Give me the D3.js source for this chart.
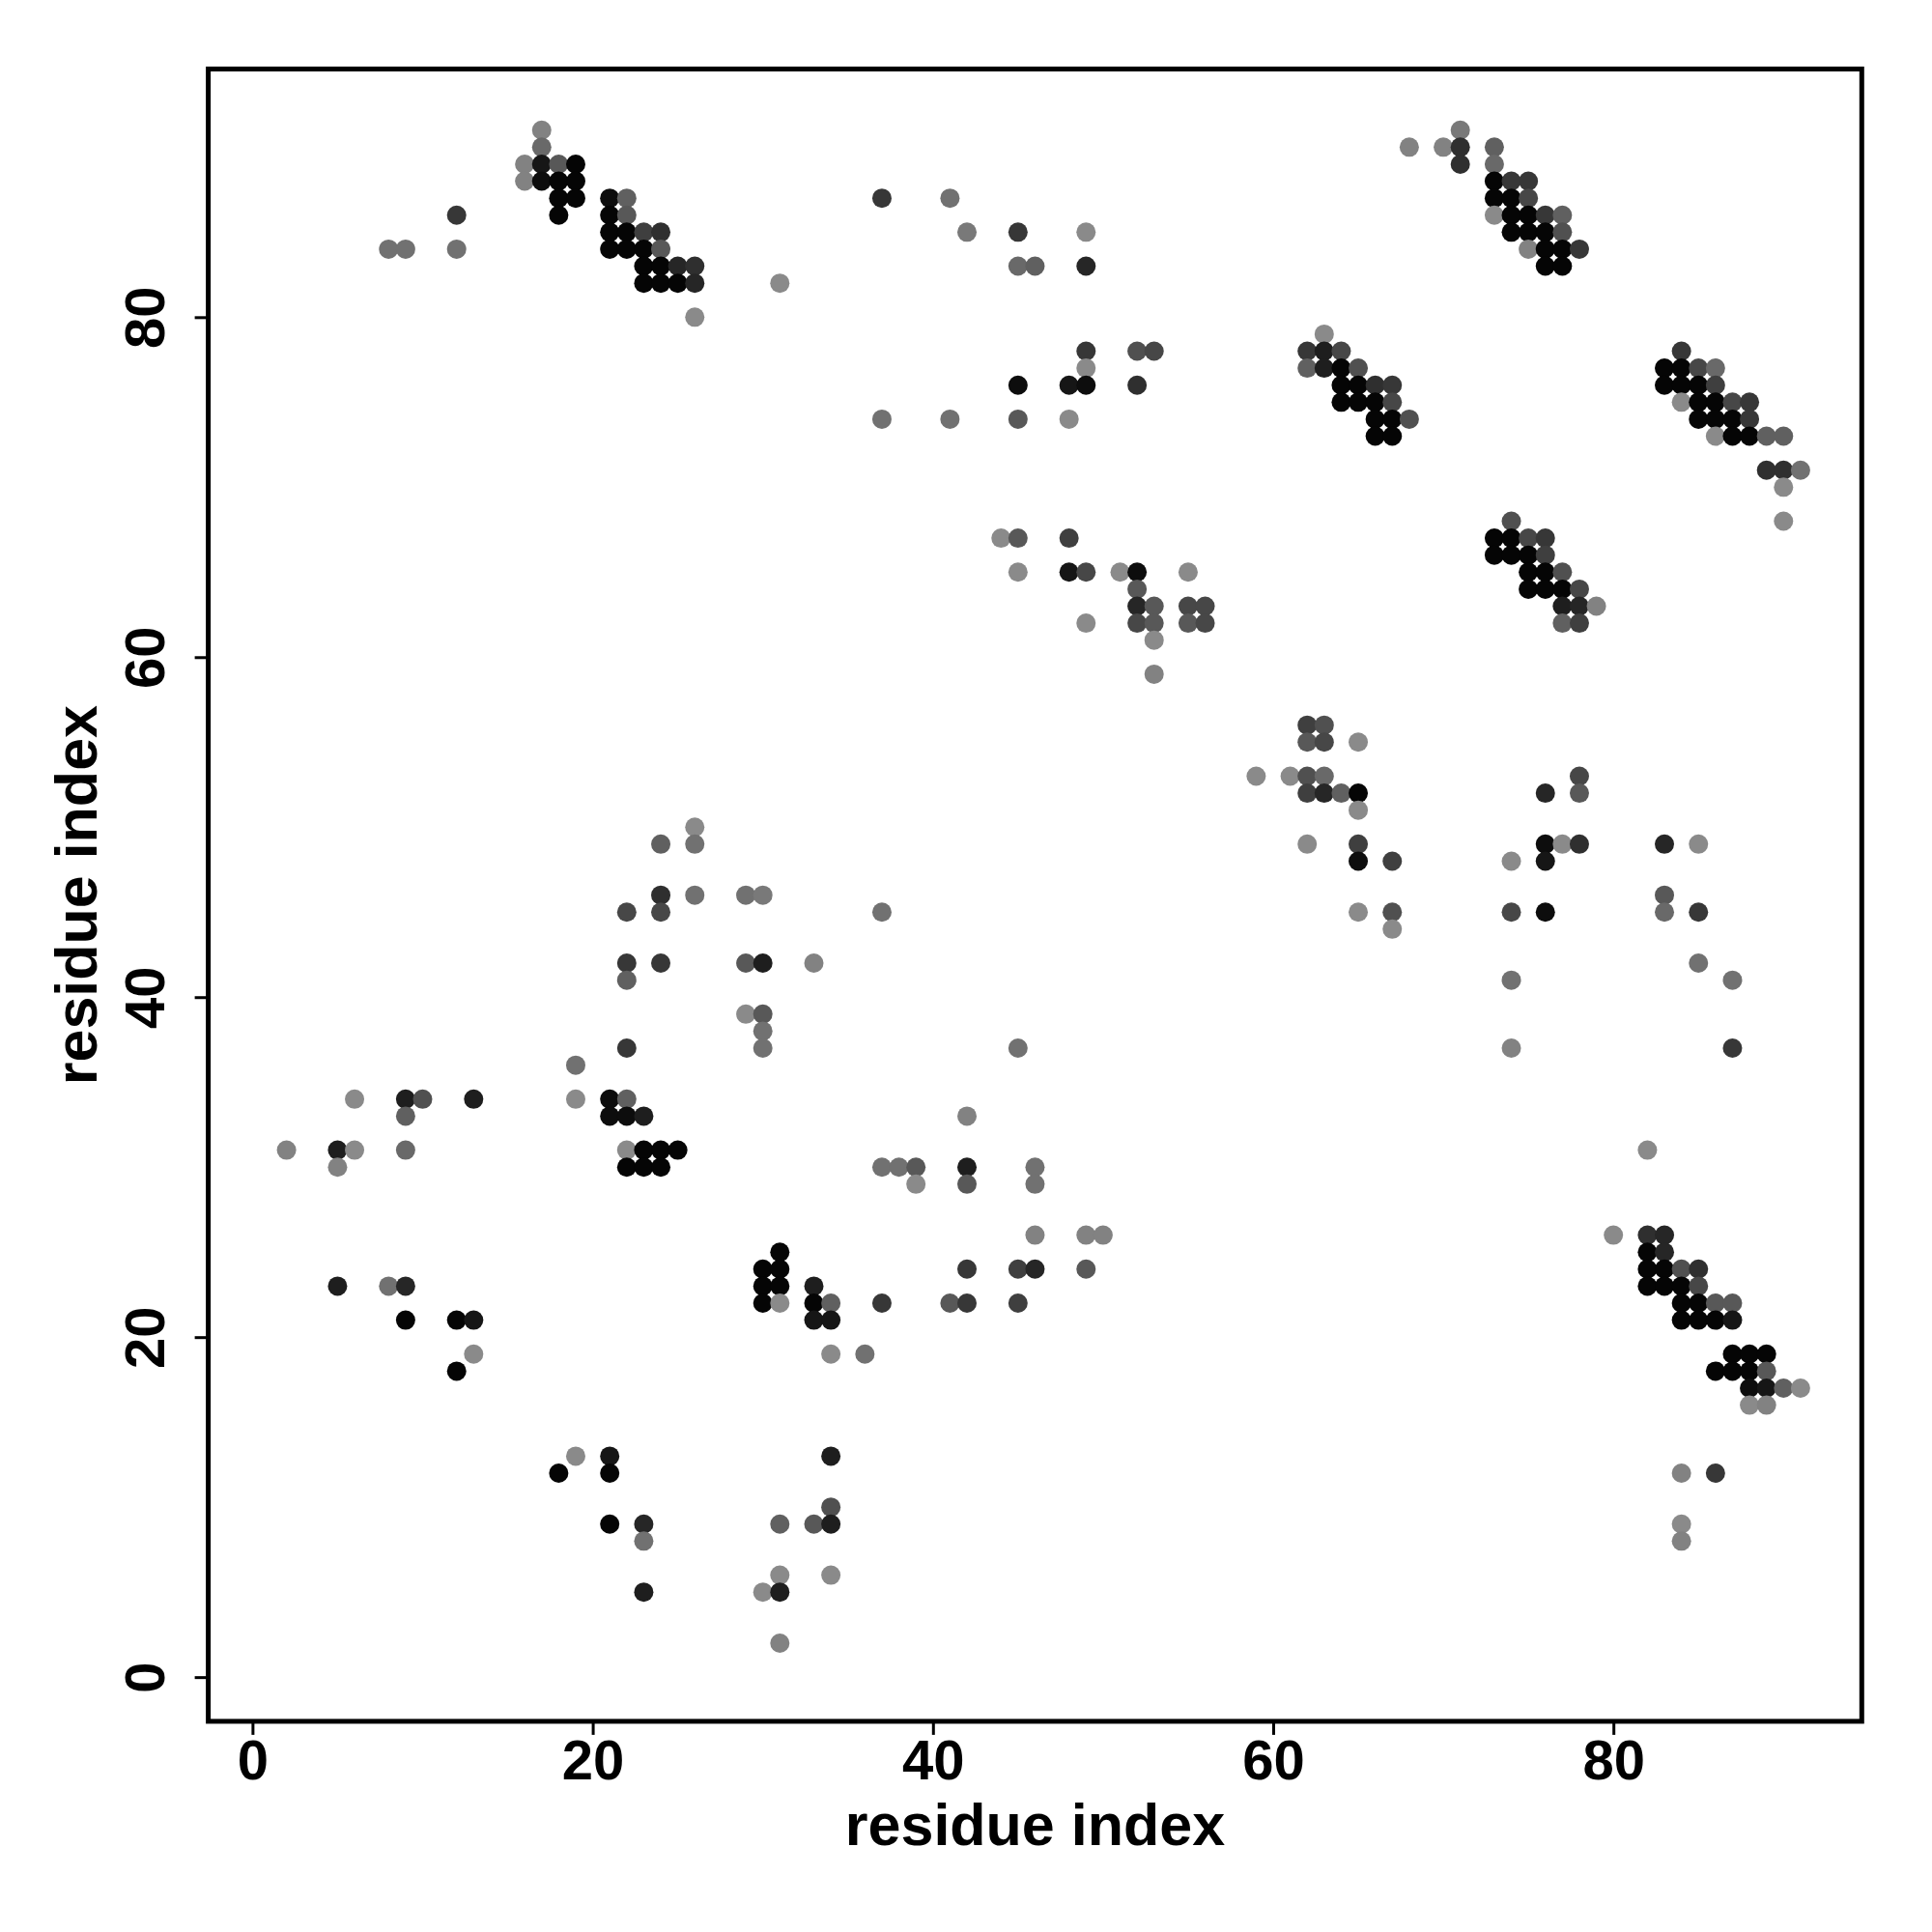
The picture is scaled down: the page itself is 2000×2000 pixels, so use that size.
<!DOCTYPE html>
<html>
<head>
<meta charset="utf-8">
<script src="https://cdn.jsdelivr.net/npm/d3@7"></script>
<style>
  html, body { margin: 0; padding: 0; background: #fff; }
  svg { display: block; }
  text { font-family: "Liberation Sans", Arial, Helvetica, sans-serif; font-weight: bold; fill: #000; }
</style>
</head>
<body>
<svg id="chart" width="2000" height="2000"></svg>
<script>
// Contacts: [residue i, residue j, contact score]
const blockTopLeft = [
  [17,91,.2],[17,90,.35],
  [16,89,.2],[17,89,.85],[18,89,.45],[19,89,.95],
  [16,88,.2],[17,88,.9],[18,88,.95],[19,88,.95],
  [18,87,.95],[19,87,.95],[21,87,.9],[22,87,.4],
  [12,86,.65],[18,86,.95],[21,86,.95],[22,86,.45],
  [21,85,.95],[22,85,.95],[23,85,.6],[24,85,.7],
  [8,84,.3],[9,84,.3],[12,84,.3],[21,84,.95],[22,84,.95],[23,84,.95],[24,84,.45],
  [23,83,.95],[24,83,.95],[25,83,.75],[26,83,.7],
  [23,82,.95],[24,82,.95],[25,82,.95],[26,82,.75],
  [31,82,.15],[26,80,.15]
];
const blockTopMid = [
  [37,87,.65],[41,87,.3],
  [42,85,.25],[45,85,.65],[49,85,.15],
  [45,83,.35],[46,83,.4],[49,83,.75],
  [49,78,.65],[49,77,.15],[45,76,.9],[48,76,.85],[49,76,.9],
  [37,74,.3],[41,74,.3],[45,74,.45],[48,74,.15],
  [44,67,.15],[45,67,.45],[48,67,.6],
  [45,65,.15],[48,65,.85],[49,65,.55],
  [49,62,.15],
  [52,78,.5],[53,78,.55],[52,76,.7],
  [51,65,.15],[52,65,.9],[55,65,.15],
  [52,64,.45],
  [52,63,.75],[53,63,.45],[55,63,.55],[56,63,.55],
  [52,62,.55],[53,62,.45],[55,62,.45],[56,62,.55],
  [53,61,.15],[53,59,.2]
];
const blockTopRight = [
  [63,79,.15],
  [62,78,.65],[63,78,.8],[64,78,.55],
  [62,77,.4],[63,77,.8],[64,77,.95],[65,77,.5],
  [64,76,.95],[65,76,.95],[66,76,.7],[67,76,.65],
  [64,75,.95],[65,75,.95],[66,75,.95],[67,75,.55],
  [66,74,.95],[67,74,.95],[68,74,.5],
  [66,73,.95],[67,73,.95],
  [68,90,.2],[70,90,.2],[71,91,.25],[71,90,.7],[71,89,.7],
  [73,90,.4],[73,89,.35],
  [73,88,.95],[74,88,.65],[75,88,.65],
  [73,87,.95],[74,87,.95],[75,87,.55],
  [73,86,.15],[74,86,.95],[75,86,.95],[76,86,.65],[77,86,.4],
  [74,85,.95],[75,85,.95],[76,85,.95],[77,85,.5],
  [75,84,.2],[76,84,.95],[77,84,.95],[78,84,.65],
  [76,83,.95],[77,83,.95],
  [84,78,.65],
  [83,77,.95],[84,77,.95],[85,77,.55],[86,77,.35],
  [83,76,.95],[84,76,.95],[85,76,.95],[86,76,.6],
  [84,75,.15],[85,75,.95],[86,75,.95],[87,75,.55],[88,75,.65],
  [85,74,.95],[86,74,.95],[87,74,.95],[88,74,.65],
  [86,73,.15],[87,73,.95],[88,73,.95],[89,73,.4],[90,73,.4],
  [89,71,.7],[90,71,.7],[91,71,.3],
  [90,70,.15],[90,68,.15],
  [74,68,.5],
  [73,67,.95],[74,67,.95],[75,67,.55],[76,67,.65],
  [73,66,.95],[74,66,.95],[75,66,.95],[76,66,.6],
  [75,65,.95],[76,65,.95],[77,65,.5],
  [75,64,.95],[76,64,.95],[77,64,.95],[78,64,.55],
  [77,63,.8],[78,63,.75],[79,63,.2],
  [77,62,.4],[78,62,.6]
];
const blockMidRight = [
  [62,56,.6],[63,56,.5],
  [62,55,.45],[63,55,.55],[65,55,.15],
  [59,53,.15],[61,53,.15],[62,53,.5],[63,53,.35],
  [62,52,.6],[63,52,.75],[64,52,.4],[65,52,.95],
  [65,51,.15],
  [62,49,.15],[65,49,.6],
  [65,48,.9],[67,48,.6],
  [65,45,.15],[67,45,.5],
  [67,44,.15],
  [78,53,.55],
  [76,52,.75],[78,52,.45],
  [76,49,.9],[77,49,.15],[78,49,.7],[83,49,.75],[85,49,.15],
  [74,48,.15],[76,48,.85],
  [83,46,.45],
  [74,45,.55],[76,45,.9],[83,45,.35],[85,45,.65],
  [85,42,.3],
  [74,41,.3],[87,41,.3],
  [74,37,.2],[87,37,.65],
  [82,31,.15]
];
const blockMidLeft = [
  [24,49,.4],[24,46,.7],
  [22,45,.55],[24,45,.55],
  [22,42,.65],[24,42,.65],
  [22,41,.4],[22,37,.65],[19,36,.3],
  [6,34,.15],[9,34,.8],[10,34,.5],[13,34,.8],[19,34,.15],[21,34,.9],[22,34,.4],
  [9,33,.4],[21,33,.9],[22,33,.9],[23,33,.8],
  [2,31,.2],[5,31,.8],[6,31,.15],[9,31,.35],[22,31,.15],[23,31,.95],[24,31,.95],[25,31,.95],
  [5,30,.2],[22,30,.95],[23,30,.95],[24,30,.95],
  [26,50,.15],[26,49,.3],
  [26,46,.3],[29,46,.3],[30,46,.25],
  [37,45,.3],
  [29,42,.45],[30,42,.8],[33,42,.2],
  [29,39,.15],[30,39,.45],[30,38,.3],[30,37,.3],
  [45,37,.3],[42,33,.2],
  [37,30,.3],[38,30,.3],[39,30,.45],[42,30,.8],[46,30,.3]
];
const blockBottomLeft = [
  [39,29,.15],[42,29,.45],[46,29,.3],
  [46,26,.2],[49,26,.2],[50,26,.2],
  [31,25,.95],
  [30,24,.95],[31,24,.95],[42,24,.65],[45,24,.6],[46,24,.75],[49,24,.45],
  [30,23,.95],[31,23,.95],[33,23,.8],
  [30,22,.95],[31,22,.15],[33,22,.95],[34,22,.4],[37,22,.65],[41,22,.45],[42,22,.65],[45,22,.6],
  [33,21,.85],[34,21,.85],
  [34,19,.15],[36,19,.3],
  [34,13,.8],[34,10,.5],
  [31,9,.4],[33,9,.45],[34,9,.8],
  [31,6,.15],[34,6,.15],
  [30,5,.15],[31,5,.8],
  [31,2,.2],
  [5,23,.8],[8,23,.3],[9,23,.75],
  [9,21,.95],[12,21,.95],[13,21,.85],
  [13,19,.15],[12,18,.95],
  [19,13,.15],[21,13,.85],
  [18,12,.95],[21,12,.95],
  [21,9,.95],[23,9,.75],
  [23,8,.3],[23,5,.8]
];
const blockBottomRight = [
  [80,26,.15],[82,26,.7],[83,26,.75],
  [82,25,.95],[83,25,.75],
  [82,24,.95],[83,24,.95],[84,24,.5],[85,24,.7],
  [82,23,.95],[83,23,.95],[84,23,.95],[85,23,.55],
  [84,22,.95],[85,22,.95],[86,22,.45],[87,22,.45],
  [84,21,.95],[85,21,.95],[86,21,.95],[87,21,.85],
  [87,19,.95],[88,19,.95],[89,19,.95],
  [86,18,.95],[87,18,.95],[88,18,.95],[89,18,.45],
  [88,17,.9],[89,17,.85],[90,17,.4],[91,17,.15],
  [88,16,.15],[89,16,.2],
  [84,12,.2],[86,12,.65],
  [84,9,.15],[84,8,.2]
];
const xTicks = [0, 20, 40, 60, 80];
const yTicks = [0, 20, 40, 60, 80];
const xLabel = "residue index";
const yLabel = "residue index";
const residueRange = [1, 91];

const contacts = [].concat(blockTopLeft, blockTopMid, blockTopRight, blockMidRight,
                           blockMidLeft, blockBottomLeft, blockBottomRight)
  .map(d => ({ i: d[0], j: d[1], s: d[2] }));

// layout
const plot = { left: 215.6, right: 1927.3, top: 71.4, bottom: 1781.9 };
const pad = (residueRange[1] - residueRange[0]) * 0.04;
const dom = [residueRange[0] - pad, residueRange[1] + pad];

const x = d3.scaleLinear().domain(dom).range([plot.left, plot.right]);
const y = d3.scaleLinear().domain(dom).range([plot.bottom, plot.top]);
const shade = d3.scaleLinear().domain([0.15, 0.95]).range(["#8a8a8a", "#050505"]);

const svg = d3.select("#chart");
svg.append("rect").attr("width", 2000).attr("height", 2000).attr("fill", "#fff");

svg.append("g").selectAll("circle")
  .data(contacts)
  .join("circle")
  .attr("cx", d => x(d.i))
  .attr("cy", d => y(d.j))
  .attr("r", 10)
  .attr("fill", d => shade(d.s));

const tickFont = 58;
const titleFont = 61;

const xAxis = svg.append("g")
  .attr("transform", `translate(0,${plot.bottom})`)
  .call(d3.axisBottom(x).tickValues(xTicks).tickSize(14).tickPadding(6).tickFormat(d3.format("d")));
xAxis.select(".domain").remove();
xAxis.selectAll(".tick line").attr("stroke", "#000").attr("stroke-width", 3);
xAxis.selectAll(".tick text")
  .attr("font-size", tickFont).attr("font-weight", "bold")
  .attr("font-family", '"Liberation Sans", Arial, sans-serif')
  .attr("fill", "#000").attr("dy", null).attr("y", 60);

const yAxis = svg.append("g")
  .attr("transform", `translate(${plot.left},0)`)
  .call(d3.axisLeft(y).tickValues(yTicks).tickSize(14).tickPadding(6).tickFormat(d3.format("d")));
yAxis.select(".domain").remove();
yAxis.selectAll(".tick line").attr("stroke", "#000").attr("stroke-width", 3);
yAxis.selectAll(".tick text")
  .attr("font-size", tickFont).attr("font-weight", "bold")
  .attr("font-family", '"Liberation Sans", Arial, sans-serif')
  .attr("fill", "#000")
  .attr("x", null).attr("dy", null)
  .attr("text-anchor", "middle")
  .attr("transform", "translate(-46,0) rotate(-90)");

// frame
svg.append("rect")
  .attr("x", plot.left).attr("y", plot.top)
  .attr("width", plot.right - plot.left).attr("height", plot.bottom - plot.top)
  .attr("fill", "none").attr("stroke", "#000").attr("stroke-width", 5);

// axis titles
svg.append("text")
  .attr("x", (plot.left + plot.right) / 2).attr("y", 1910)
  .attr("text-anchor", "middle").attr("font-size", titleFont)
  .text(xLabel);
svg.append("text")
  .attr("transform", `translate(100,${(plot.top + plot.bottom) / 2}) rotate(-90)`)
  .attr("text-anchor", "middle").attr("font-size", titleFont)
  .text(yLabel);
</script>
</body>
</html>
